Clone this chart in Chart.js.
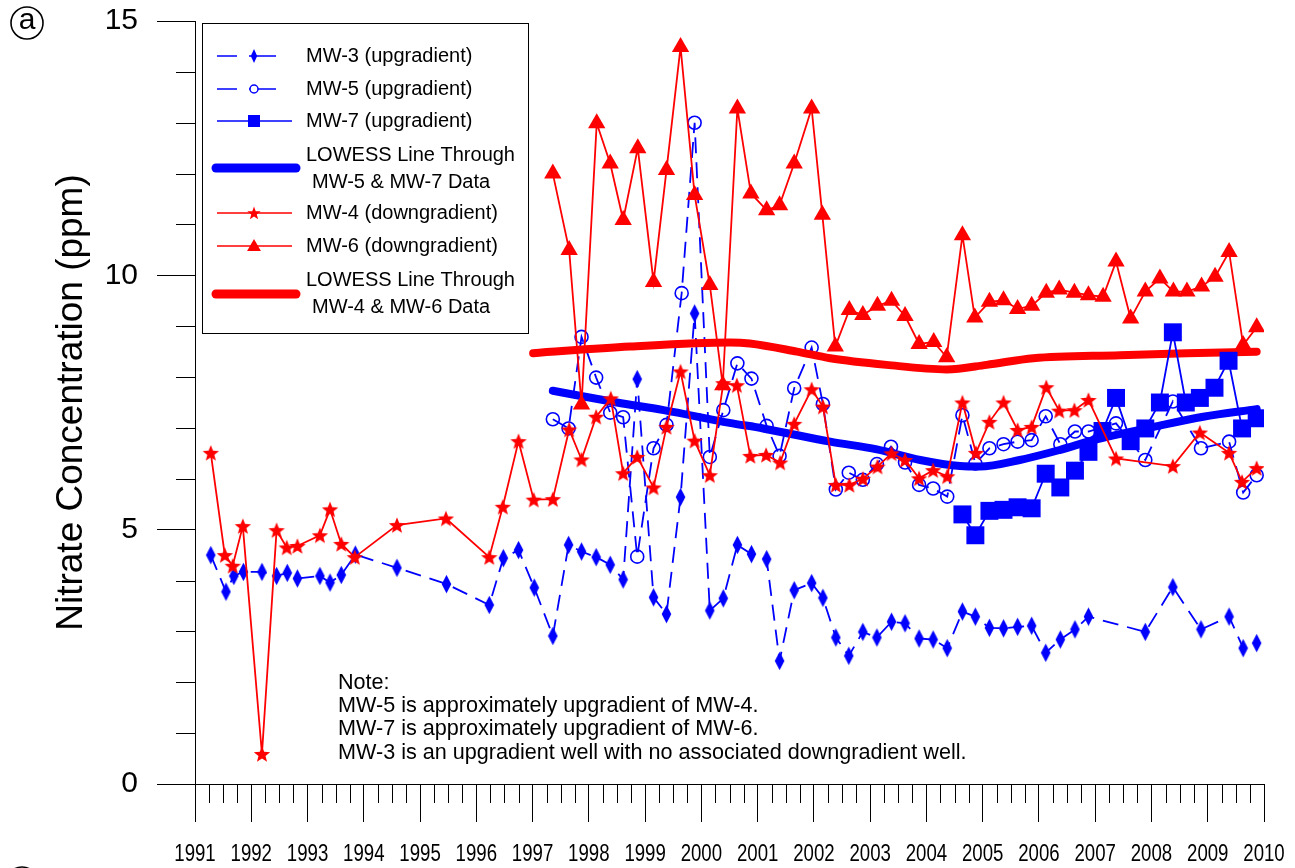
<!DOCTYPE html>
<html>
<head>
<meta charset="utf-8">
<script src="https://cdn.jsdelivr.net/npm/chart.js@4.4.0/dist/chart.umd.min.js"></script>
<style>
  html, body { margin: 0; padding: 0; background: #fff; overflow: hidden; }
  canvas { display: block; }
</style>
</head>
<body>
<canvas id="c" width="1295" height="868"></canvas>
<script>
// ── DATA ──────────────────────────────────────────────────────────────────────
const xTickLabels = ['1991','1992','1993','1994','1995','1996','1997','1998','1999','2000',
                     '2001','2002','2003','2004','2005','2006','2007','2008','2009','2010'];
const yTickLabels = ['0','5','10','15'];

// MW-3 (upgradient) – blue diamonds, dashed
const mw3Years  = [1991.28,1991.55,1991.69,1991.86,1992.19,1992.45,1992.64,1992.82,1993.22,1993.40,
                   1993.60,1993.85,1994.59,1995.47,1996.23,1996.48,1996.75,1997.03,1997.36,1997.64,
                   1997.87,1998.13,1998.38,1998.61,1998.86,1999.15,1999.38,1999.63,1999.88,2000.15,
                   2000.39,2000.64,2000.89,2001.16,2001.39,2001.65,2001.96,2002.16,2002.39,2002.62,
                   2002.87,2003.12,2003.38,2003.62,2003.87,2004.12,2004.37,2004.64,2004.87,2005.12,
                   2005.37,2005.62,2005.87,2006.12,2006.38,2006.64,2006.88,2007.89,2008.38,2008.88,
                   2009.38,2009.63,2009.87];
const mw3Values = [4.50,3.78,4.09,4.17,4.17,4.09,4.15,4.04,4.09,3.96,
                   4.11,4.51,4.25,3.93,3.52,4.44,4.60,3.86,2.91,4.70,
                   4.57,4.46,4.31,4.02,7.96,3.67,3.34,5.64,9.25,3.41,
                   3.65,4.70,4.52,4.42,2.42,3.81,3.95,3.66,2.88,2.52,
                   2.99,2.88,3.19,3.16,2.86,2.84,2.67,3.39,3.29,3.07,
                   3.06,3.09,3.11,2.58,2.84,3.04,3.29,2.99,3.87,3.04,
                   3.29,2.67,2.77];

// MW-5 (upgradient) – blue open circles, dashed
const mw5Years  = [1997.36,1997.64,1997.87,1998.13,1998.38,1998.61,1998.86,1999.15,1999.38,1999.65,
                   1999.88,2000.15,2000.39,2000.64,2000.89,2001.16,2001.39,2001.65,2001.96,2002.16,
                   2002.39,2002.62,2002.87,2003.12,2003.37,2003.62,2003.87,2004.12,2004.37,2004.64,
                   2004.87,2005.12,2005.37,2005.62,2005.87,2006.12,2006.38,2006.64,2006.88,2007.37,
                   2007.89,2008.38,2008.88,2009.38,2009.63,2009.87];
const mw5Values = [7.17,6.99,8.79,7.99,7.30,7.21,4.47,6.60,7.06,9.65,
                   13.00,6.43,7.35,8.27,7.97,7.04,6.45,7.78,8.58,7.47,
                   5.79,6.12,5.98,6.29,6.63,6.32,5.88,5.81,5.65,7.25,
                   6.30,6.60,6.68,6.73,6.76,7.23,6.68,6.93,6.93,7.09,
                   6.37,7.52,6.60,6.73,5.73,6.07];

// MW-7 (upgradient) – blue filled squares, solid
const mw7Years  = [2004.64,2004.87,2005.12,2005.37,2005.62,2005.87,2006.12,2006.38,2006.64,2006.88,
                   2007.13,2007.37,2007.63,2007.89,2008.15,2008.38,2008.61,2008.86,2009.12,2009.37,
                   2009.61,2009.87];
const mw7Values = [5.30,4.89,5.37,5.39,5.44,5.42,6.10,5.83,6.16,6.53,
                   6.94,7.59,6.74,6.99,7.50,8.88,7.50,7.59,7.79,8.32,
                   6.99,7.19];

// MW-4 (downgradient) – red stars, solid
const mw4Years  = [1991.28,1991.53,1991.67,1991.85,1992.19,1992.45,1992.63,1992.82,1993.22,1993.40,
                   1993.60,1993.84,1994.59,1995.46,1996.23,1996.47,1996.75,1997.02,1997.36,1997.65,
                   1997.87,1998.13,1998.39,1998.61,1998.86,1999.15,1999.38,1999.63,1999.88,2000.15,
                   2000.39,2000.63,2000.87,2001.15,2001.40,2001.65,2001.96,2002.16,2002.39,2002.63,
                   2002.87,2003.13,2003.38,2003.62,2003.87,2004.12,2004.37,2004.64,2004.88,2005.12,
                   2005.37,2005.62,2005.87,2006.13,2006.36,2006.63,2006.88,2007.37,2008.38,2008.86,
                   2009.38,2009.61,2009.87];
const mw4Values = [6.51,4.50,4.29,5.07,0.59,4.99,4.65,4.68,4.89,5.40,
                   4.72,4.46,5.09,5.22,4.46,5.45,6.74,5.59,5.60,6.97,
                   6.38,7.22,7.58,6.11,6.43,5.83,7.02,8.11,6.75,6.07,
                   7.88,7.84,6.45,6.47,6.32,7.08,7.76,7.42,5.88,5.88,
                   6.00,6.24,6.50,6.37,6.01,6.17,6.05,7.50,6.51,7.12,
                   7.50,6.96,7.02,7.80,7.34,7.35,7.55,6.40,6.25,6.91,
                   6.51,5.94,6.21];

// MW-6 (downgradient) – red triangles, solid
const mw6Years  = [1997.36,1997.65,1997.87,1998.14,1998.38,1998.61,1998.87,1999.15,1999.38,1999.63,
                   1999.88,2000.15,2000.38,2000.64,2000.88,2001.16,2001.39,2001.65,2001.96,2002.15,
                   2002.38,2002.63,2002.87,2003.13,2003.38,2003.62,2003.87,2004.13,2004.36,2004.64,
                   2004.86,2005.12,2005.37,2005.62,2005.87,2006.13,2006.36,2006.63,2006.88,2007.14,
                   2007.37,2007.63,2007.89,2008.15,2008.39,2008.63,2008.89,2009.13,2009.38,2009.63,
                   2009.87];
const mw6Values = [12.00,10.50,7.46,12.99,12.20,11.09,12.50,9.87,12.07,14.49,
                   11.58,9.81,7.84,13.28,11.61,11.28,11.38,12.20,13.28,11.19,
                   8.60,9.32,9.22,9.40,9.50,9.20,8.65,8.69,8.39,10.79,
                   9.17,9.48,9.51,9.34,9.40,9.66,9.72,9.66,9.61,9.58,
                   10.27,9.15,9.68,9.94,9.68,9.68,9.78,9.97,10.46,8.63,
                   8.98];

// LOWESS smooths
const lowessUpYears    = [1997.36,1998.50,1999.33,2000.50,2001.10,2002.29,2003.12,2003.89,2004.60,2004.95,
                          2005.66,2006.38,2006.97,2008.04,2008.92,2009.87];
const lowessUpValues   = [7.73,7.50,7.35,7.10,6.99,6.73,6.58,6.37,6.25,6.24,
                          6.37,6.57,6.76,7.02,7.22,7.37];
const lowessDownYears  = [1997.01,1998.73,2000.51,2000.86,2001.70,2002.29,2003.29,2004.36,2005.07,2005.90,
                          2007.44,2008.63,2009.87];
const lowessDownValues = [8.47,8.60,8.68,8.66,8.50,8.37,8.24,8.15,8.24,8.37,
                          8.43,8.47,8.50];

const legendLabels = [
  'MW-3 (upgradient)', 'MW-5 (upgradient)', 'MW-7 (upgradient)',
  ['LOWESS Line Through', 'MW-5 & MW-7 Data'],
  'MW-4 (downgradient)', 'MW-6 (downgradient)',
  ['LOWESS Line Through', 'MW-4 & MW-6 Data']
];
const noteLines = [
  'Note:',
  'MW-5 is approximately upgradient of MW-4.',
  'MW-7 is approximately upgradient of MW-6.',
  'MW-3 is an upgradient well with no associated downgradient well.'
];
const yTitle = 'Nitrate Concentration (ppm)';

// ── HELPERS ───────────────────────────────────────────────────────────────────
const BLUE = '#0000ff', RED = '#ff0000';
const FONT = "'Liberation Sans', Arial, sans-serif";
const pts = (xs, ys) => xs.map((x, i) => ({ x, y: ys[i] }));

function starPath(g, x, y, ro, ri) {
  g.beginPath();
  for (let i = 0; i < 10; i++) {
    const r = i % 2 ? ri : ro, a = -Math.PI / 2 + i * Math.PI / 5;
    g.lineTo(x + r * Math.cos(a), y + r * Math.sin(a));
  }
  g.closePath();
}
function diamondPath(g, x, y, hw, hh) {
  g.beginPath();
  g.moveTo(x, y - hh); g.lineTo(x + hw, y); g.lineTo(x, y + hh); g.lineTo(x - hw, y);
  g.closePath();
}
function triPath(g, x, y, r) {
  g.beginPath();
  for (let i = 0; i < 3; i++) {
    const a = -Math.PI / 2 + i * 2 * Math.PI / 3;
    g.lineTo(x + r * Math.cos(a), y + r * Math.sin(a));
  }
  g.closePath();
}
function sprite(w, h, draw) {
  const c = document.createElement('canvas');
  c.width = w; c.height = h;
  draw(c.getContext('2d'), w / 2, h / 2);
  return c;
}
const starImg    = sprite(20, 20, (g, cx, cy) => { starPath(g, cx, cy + 0.8, 8.6, 3.7); g.fillStyle = RED; g.fill(); });
const diamondImg = sprite(11, 20, (g, cx, cy) => { diamondPath(g, cx, cy, 4.8, 9.2); g.fillStyle = BLUE; g.fill(); });

// force the plot box to match the original frame (no automatic label padding)
const noPad = s => { s.paddingTop = 0; s.paddingBottom = 0; s.paddingLeft = 0; s.paddingRight = 0; };

// ── EXTRA DRAWING: minor ticks, year labels, legend box, note, panel letter ──
const decor = {
  id: 'decor',
  afterDraw(chart) {
    const { ctx, scales: { x, y }, chartArea: a } = chart;
    ctx.save();
    ctx.strokeStyle = '#000';
    ctx.lineWidth = 1;
    ctx.beginPath();
    for (let i = 1; i < 76; i++) {
      if (i % 4 === 0) continue;
      const px = Math.round(x.getPixelForValue(1991 + i / 4)) + 0.5;
      ctx.moveTo(px, a.bottom); ctx.lineTo(px, a.bottom + 19);
    }
    for (let v = 1; v < 15; v++) {
      if (v % 5 === 0) continue;
      const py = Math.round(y.getPixelForValue(v)) + 0.5;
      ctx.moveTo(a.left - 19, py); ctx.lineTo(a.left, py);
    }
    ctx.stroke();

    // condensed year labels
    ctx.fillStyle = '#000';
    ctx.font = '23px ' + FONT;
    ctx.textAlign = 'center';
    ctx.textBaseline = 'middle';
    xTickLabels.forEach((t, i) => {
      const px = x.getPixelForValue(1991 + i);
      ctx.save();
      ctx.translate(px, a.bottom + 71);
      ctx.scale(0.81, 1);
      ctx.fillText(t, 0, 0);
      ctx.restore();
    });
    ctx.textAlign = 'left';

    // legend box
    const L = 202, T = 23, R = 528, B = 333;
    ctx.fillStyle = '#fff';
    ctx.fillRect(L, T, R - L, B - T);
    ctx.strokeStyle = '#000';
    ctx.strokeRect(L + 0.5, T + 0.5, R - L, B - T);

    const rows = [
      { y: 56,  c: BLUE, dash: true,  m: 'diamond' },
      { y: 89,  c: BLUE, dash: true,  m: 'circle' },
      { y: 121, c: BLUE, dash: false, m: 'square' },
      { y: 168, c: BLUE, thick: true, ty: [155, 182] },
      { y: 213, c: RED,  dash: false, m: 'star' },
      { y: 246, c: RED,  dash: false, m: 'triangle' },
      { y: 294, c: RED,  thick: true, ty: [280, 307] }
    ];
    ctx.font = '20px ' + FONT;
    rows.forEach((r, i) => {
      ctx.strokeStyle = r.c; ctx.fillStyle = r.c;
      ctx.beginPath();
      if (r.thick) {
        ctx.lineWidth = 9; ctx.lineCap = 'round';
        ctx.moveTo(216, r.y); ctx.lineTo(296, r.y);
      } else if (r.dash) {
        ctx.lineWidth = 1.6; ctx.lineCap = 'butt';
        ctx.moveTo(217, r.y); ctx.lineTo(237, r.y);
        ctx.moveTo(249, r.y); ctx.lineTo(276, r.y);
      } else {
        ctx.lineWidth = 1.6; ctx.lineCap = 'butt';
        ctx.moveTo(217, r.y); ctx.lineTo(292, r.y);
      }
      ctx.stroke();
      const mx = 254;
      if (r.m === 'diamond') { diamondPath(ctx, mx, r.y, 3.2, 7); ctx.fill(); }
      if (r.m === 'circle')  { ctx.fillStyle = '#fff'; ctx.beginPath(); ctx.arc(mx, r.y, 4, 0, Math.PI * 2); ctx.fill(); ctx.lineWidth = 1.5; ctx.stroke(); }
      if (r.m === 'square')  { ctx.fillRect(mx - 6, r.y - 6, 12, 12); }
      if (r.m === 'star')    { starPath(ctx, mx, r.y + 0.5, 7, 2.9); ctx.fill(); }
      if (r.m === 'triangle'){ triPath(ctx, mx, r.y + 1, 8); ctx.fill(); }
      ctx.fillStyle = '#000';
      const lab = legendLabels[i];
      if (Array.isArray(lab)) {
        ctx.fillText(lab[0], 306, r.ty[0]);
        ctx.fillText(lab[1], 312, r.ty[1]);
      } else {
        ctx.fillText(lab, 306, r.y);
      }
    });

    // note
    ctx.fillStyle = '#000';
    ctx.font = '21.6px ' + FONT;
    noteLines.forEach((t, i) => ctx.fillText(t, 338, 683 + i * 23.2));

    // circled panel letters
    ctx.strokeStyle = '#000'; ctx.lineWidth = 1.6;
    ctx.beginPath(); ctx.arc(27, 23, 16, 0, Math.PI * 2); ctx.stroke();
    ctx.font = '30px ' + FONT; ctx.textAlign = 'center';
    ctx.fillText('a', 27, 21);
    ctx.beginPath(); ctx.arc(22, 883, 16, 0, Math.PI * 2); ctx.stroke();
    ctx.restore();
  }
};

// ── CHART ─────────────────────────────────────────────────────────────────────
const series = (label, xs, ys, color, extra) => Object.assign({
  label, data: pts(xs, ys), borderColor: color, backgroundColor: color,
  borderWidth: 1.8, tension: 0, pointBorderColor: color, pointBackgroundColor: color
}, extra);

new Chart(document.getElementById('c'), {
  type: 'line',
  data: {
    datasets: [
      series(legendLabels[0], mw3Years, mw3Values, BLUE,
        { borderDash: [16, 9], pointStyle: diamondImg, pointRadius: 8, order: 7 }),
      series(legendLabels[1], mw5Years, mw5Values, BLUE,
        { borderDash: [16, 9], pointStyle: 'circle', pointRadius: 6.5, pointBorderWidth: 1.6,
          pointBackgroundColor: 'rgba(0,0,0,0)', order: 6 }),
      series(legendLabels[6].join(' '), lowessDownYears, lowessDownValues, RED,
        { borderWidth: 8, pointRadius: 0, cubicInterpolationMode: 'monotone', borderCapStyle: 'round', order: 5 }),
      series(legendLabels[3].join(' '), lowessUpYears, lowessUpValues, BLUE,
        { borderWidth: 8, pointRadius: 0, cubicInterpolationMode: 'monotone', borderCapStyle: 'round', order: 4 }),
      series(legendLabels[2], mw7Years, mw7Values, BLUE,
        { pointStyle: 'rect', pointRadius: 12.7, pointBorderWidth: 0, order: 3 }),
      series(legendLabels[5], mw6Years, mw6Values, RED,
        { pointStyle: 'triangle', pointRadius: 10, pointBorderWidth: 0, order: 2 }),
      series(legendLabels[4], mw4Years, mw4Values, RED,
        { pointStyle: starImg, pointRadius: 8, order: 1 })
    ]
  },
  options: {
    responsive: false,
    devicePixelRatio: 1,
    animation: false,
    events: [],
    layout: { padding: { top: 21, right: 31, left: 0, bottom: 0 } },
    plugins: { legend: { display: false }, tooltip: { enabled: false } },
    scales: {
      x: {
        type: 'linear', min: 1991, max: 2010,
        afterFit: s => { s.height = 84; noPad(s); },
        grid: { drawOnChartArea: false, tickLength: 38, tickColor: '#000', tickWidth: 1 },
        border: { color: '#000', width: 1 },
        ticks: { stepSize: 1, autoSkip: false, maxRotation: 0, display: false }
      },
      y: {
        min: 0, max: 15,
        afterFit: s => { s.width = 195; noPad(s); },
        grid: { drawOnChartArea: false, tickLength: 38, tickColor: '#000', tickWidth: 1 },
        border: { color: '#000', width: 1 },
        ticks: {
          stepSize: 5, padding: 19, color: '#000',
          font: { family: FONT, size: 30 },
          callback: (v, i) => yTickLabels[i]
        },
        title: {
          display: true, text: yTitle, color: '#000',
          font: { family: FONT, size: 37 }, padding: { top: 50, bottom: 0 }
        }
      }
    }
  },
  plugins: [decor]
});
</script>
</body>
</html>
